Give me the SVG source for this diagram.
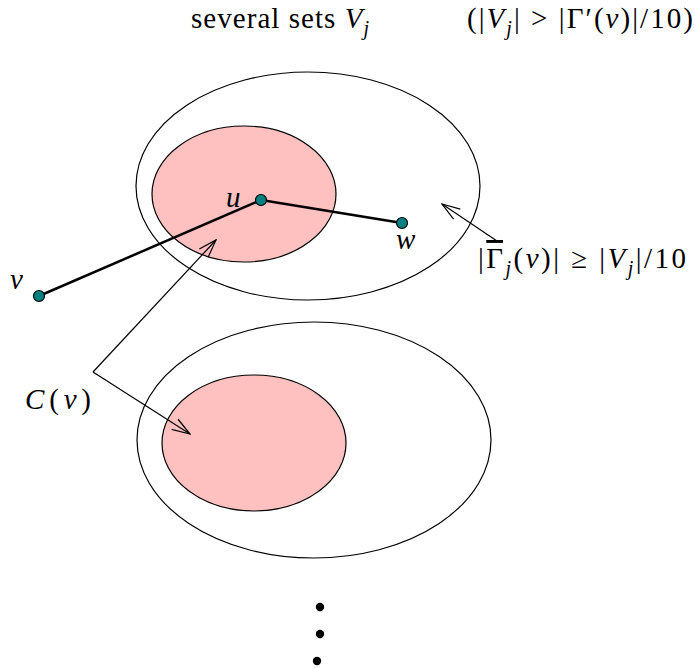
<svg xmlns="http://www.w3.org/2000/svg" width="695" height="669" viewBox="0 0 695 669">
<defs>
<style>
.outer{fill:none;stroke:#000;stroke-width:1.2}
.pink{fill:#ffc0c0;stroke:#000;stroke-width:1.2}
.node{fill:#008080;stroke:#000;stroke-width:1.2}
.edge{stroke:#000;stroke-width:2.5;fill:none}
.arr{stroke:#000;stroke-width:1.2;fill:none}
text{font-family:"Liberation Serif","DejaVu Serif",serif;font-size:29px;fill:#000}
.it{font-style:italic}
.sub{font-style:italic;font-size:20px}
.dot{fill:#000}
</style>
<marker id="open" viewBox="0 0 20 14" refX="19" refY="7" markerWidth="20" markerHeight="14" markerUnits="userSpaceOnUse" orient="auto">
<path d="M1,1 L19,7 L1,13" fill="none" stroke="#000" stroke-width="1.2"/>
</marker>
</defs>
<g id="set-top">
<ellipse class="outer" cx="308" cy="186" rx="172" ry="114"/>
<ellipse class="pink" cx="244" cy="194" rx="92" ry="68"/>
</g>
<g id="set-bottom">
<ellipse class="outer" cx="314" cy="440" rx="177" ry="118"/>
<ellipse class="pink" cx="254" cy="443" rx="92" ry="68"/>
</g>
<g id="connectors">
<line class="edge" x1="39" y1="296" x2="261" y2="200"/>
<line class="edge" x1="261" y1="200" x2="402" y2="223"/>
<polyline class="arr" points="93,372 216,240" marker-end="url(#open)"/>
<polyline class="arr" points="93,372 190,434" marker-end="url(#open)"/>
<line class="arr" x1="497" y1="241" x2="442" y2="204" marker-end="url(#open)"/>
</g>
<g id="node-u"><circle class="node" cx="261" cy="200" r="5.5"/><text class="it" x="226" y="207">u</text></g>
<g id="node-w"><circle class="node" cx="402" cy="223" r="5.5"/><text class="it" x="396" y="249">w</text></g>
<g id="node-v"><circle class="node" cx="39" cy="296" r="5.5"/><text class="it" x="10" y="289">v</text></g>
<g id="label-cv"><text x="25" y="409" textLength="66" lengthAdjust="spacing"><tspan class="it">C</tspan>(<tspan class="it">v</tspan>)</text></g>
<g id="title">
<text x="191" y="28" textLength="178" lengthAdjust="spacing">several sets <tspan class="it">V</tspan><tspan class="sub" dy="7">j</tspan></text>
<text x="467" y="28" textLength="226" lengthAdjust="spacing">(|<tspan class="it">V</tspan><tspan class="sub" dy="7">j</tspan><tspan dy="-7">| &gt; |Γ′(</tspan><tspan class="it">v</tspan>)|/10)</text>
</g>
<g id="label-gamma">
<text x="478" y="268" textLength="208" lengthAdjust="spacing">|<tspan text-decoration="overline">Γ</tspan><tspan class="sub" dy="7">j</tspan><tspan dy="-7">(</tspan><tspan class="it">v</tspan>)| ≥ |<tspan class="it">V</tspan><tspan class="sub" dy="7">j</tspan><tspan dy="-7">|/10</tspan></text>
</g>
<g id="ellipsis">
<circle class="dot" cx="320" cy="607" r="4.2"/>
<circle class="dot" cx="320" cy="634" r="4.2"/>
<circle class="dot" cx="317" cy="661" r="4.2"/>
</g>
</svg>
